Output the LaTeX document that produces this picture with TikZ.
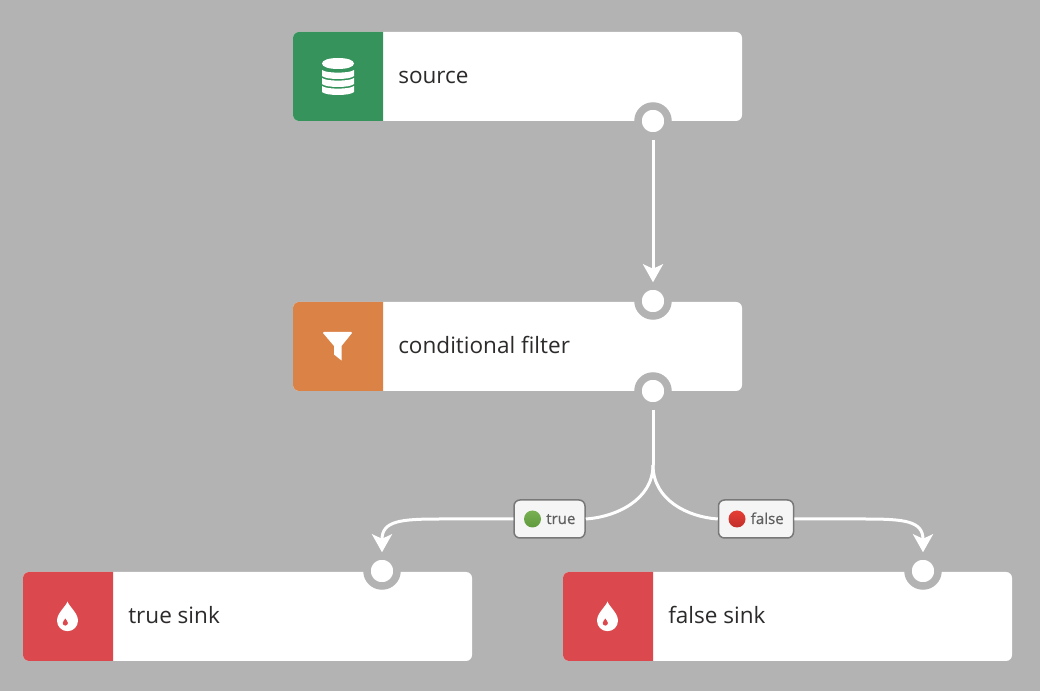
\documentclass[tikz,border=0pt]{standalone}
\usepackage{fontspec}
\setmainfont{Open Sans}
\newfontfamily\flagfont[FakeBold=0.6]{Open Sans}
\usetikzlibrary{arrows.meta,positioning}
\def\pxu{0.75pt}
\definecolor{canvasgray}{HTML}{B3B3B3}
\definecolor{sourcegreen}{HTML}{36935B}
\definecolor{filterorange}{HTML}{DB8347}
\definecolor{sinkred}{HTML}{DB484D}
\definecolor{cardink}{HTML}{2D2A2A}
\definecolor{flagink}{HTML}{5F5F5F}
\definecolor{dotgreentop}{HTML}{78B052}
\definecolor{dotgreenlow}{HTML}{5F9A3D}
\definecolor{dotredtop}{HTML}{E53E35}
\definecolor{dotredlow}{HTML}{C22F2B}
% drop icon of a sink, #1 is the x of its middle
\def\dropicon#1{
	\fill[white] (#1,601.5) .. controls (#1+2,607) and (#1+10.5,613) .. (#1+10.5,620.7) arc (0:180:10.5) .. controls (#1-10.5,613) and (#1-2,607) .. (#1,601.5);
	\fill[sinkred] (#1-2.2,618.5) .. controls (#1-1.5,620.5) and (#1+0.4,621) .. (#1+0.4,623) arc (0:180:2.6) .. controls (#1-4.8,621) and (#1-2.9,620.5) .. (#1-2.2,618.5);
}
\tikzset{
	card/.style={fill=white,rounded corners=4.5pt,minimum width=449*\pxu,minimum height=89*\pxu,inner sep=0pt},
	cardtext/.style={anchor=base west,inner sep=0pt,text=cardink,font=\fontsize{16.9pt}{20pt}\selectfont},
	port/.style={circle,fill=white,draw=canvasgray,line width=7.5*\pxu,minimum size=30*\pxu,inner sep=0pt},
	wire/.style={draw=white,line width=3*\pxu},
	tipwire/.style={wire,-{Stealth[length=18*\pxu,width=20*\pxu,inset=4.5*\pxu]}},
	flag/.style={fill=black!4,draw=black!53,line width=1.5*\pxu,rounded corners=4.5pt,minimum height=38*\pxu,inner sep=0pt},
	flagdot/.style={circle,minimum size=17*\pxu,inner sep=0pt},
	flagtext/.style={anchor=base west,inner sep=0pt,text=flagink,font=\flagfont\fontsize{11.3pt}{13pt}\selectfont},
}
\begin{document}
\begin{tikzpicture}[x=\pxu,y=-\pxu]
	\useasboundingbox (0,0) rectangle (1040,691);
	\fill[canvasgray] (0,0) rectangle (1040,691);
	% source
	\node[card] (sourcecard) at (517.5,76.5){};
	\fill[sourcegreen] (383,32)[rounded corners=4.5pt]--(293,32)--(293,121)[sharp corners]--(383,121)--cycle;
	\fill[white] (338,58) .. controls (347,58) and (354,60) .. (354,63.5) .. controls (354,67) and (347,69) .. (338,69) .. controls (329,69) and (322,67) .. (322,63.5) .. controls (322,60) and (329,58) .. (338,58);
	\fill[white] (322,70) .. controls (326,73.5) and (350,73.5) .. (354,70) -- (354,76) .. controls (350,80) and (326,80) .. (322,76) -- cycle;
	\fill[white] (322,78) .. controls (326,81.5) and (350,81.5) .. (354,78) -- (354,84) .. controls (350,88) and (326,88) .. (322,84) -- cycle;
	\fill[white] (322,86) .. controls (326,89.5) and (350,89.5) .. (354,86) -- (354,92) .. controls (350,96) and (326,96) .. (322,92) -- cycle;
	\node[cardtext] (sourcetext) at (398,84){source};
	\node[port] (sourceout) at (653,121){};
	% filter
	\node[card] (filtercard) at (517.5,346.5){};
	\fill[filterorange] (383,302)[rounded corners=4.5pt]--(293,302)--(293,391)[sharp corners]--(383,391)--cycle;
	\fill[white] (323,333)--(324,332)--(351,332)--(352,333)--(341.5,346)--(341.5,360.5)--(334,354.5)--(334,346)--cycle;
	\node[cardtext] (filtertext) at (398,354){conditional filter};
	\node[port] (filterin) at (653,301){};
	\node[port] (filterout) at (653,391){};
	% true sink
	\node[card] (truecard) at (247.5,616.5){};
	\fill[sinkred] (113,572)[rounded corners=4.5pt]--(23,572)--(23,661)[sharp corners]--(113,661)--cycle;
	\dropicon{67.5}
	\node[cardtext] (truetext) at (128,624){true sink};
	\node[port] (truein) at (382,571){};
	% false sink
	\node[card] (falsecard) at (787.5,616.5){};
	\fill[sinkred] (653,572)[rounded corners=4.5pt]--(563,572)--(563,661)[sharp corners]--(653,661)--cycle;
	\dropicon{607.5}
	\node[cardtext] (falsetext) at (668,624){false sink};
	\node[port] (falsein) at (923,571){};
	% flags on the branches
	\node[flag,minimum width=71*\pxu] (trueflag) at (549.5,519){};
	\node[flagdot,top color=dotgreentop,bottom color=dotgreenlow] (truedot) at (532.5,519){};
	\node[flagtext] (truelabel) at (546,524){true};
	\node[flag,minimum width=75*\pxu] (falseflag) at (756,519){};
	\node[flagdot,top color=dotredtop,bottom color=dotredlow] (falsedot) at (737,519){};
	\node[flagtext] (falselabel) at (750.5,524){false};
	\coordinate (branch) at (653,465);
	% connectors
	\draw[tipwire] (sourceout)--(filterin);
	\draw[wire] (filterout)--(branch);
	\draw[wire] (branch) .. controls +(0,35) and +(30,-2) .. (trueflag.east);
	\draw[wire] (branch) .. controls +(0,35) and +(-30,-2) .. (falseflag.west);
	\draw[tipwire] (trueflag.west)--(440,519) .. controls (400,519) and (382,521) .. (truein);
	\draw[tipwire] (falseflag.east)--(865,519) .. controls (905,519) and (923,521) .. (falsein);
\end{tikzpicture}
\end{document}
